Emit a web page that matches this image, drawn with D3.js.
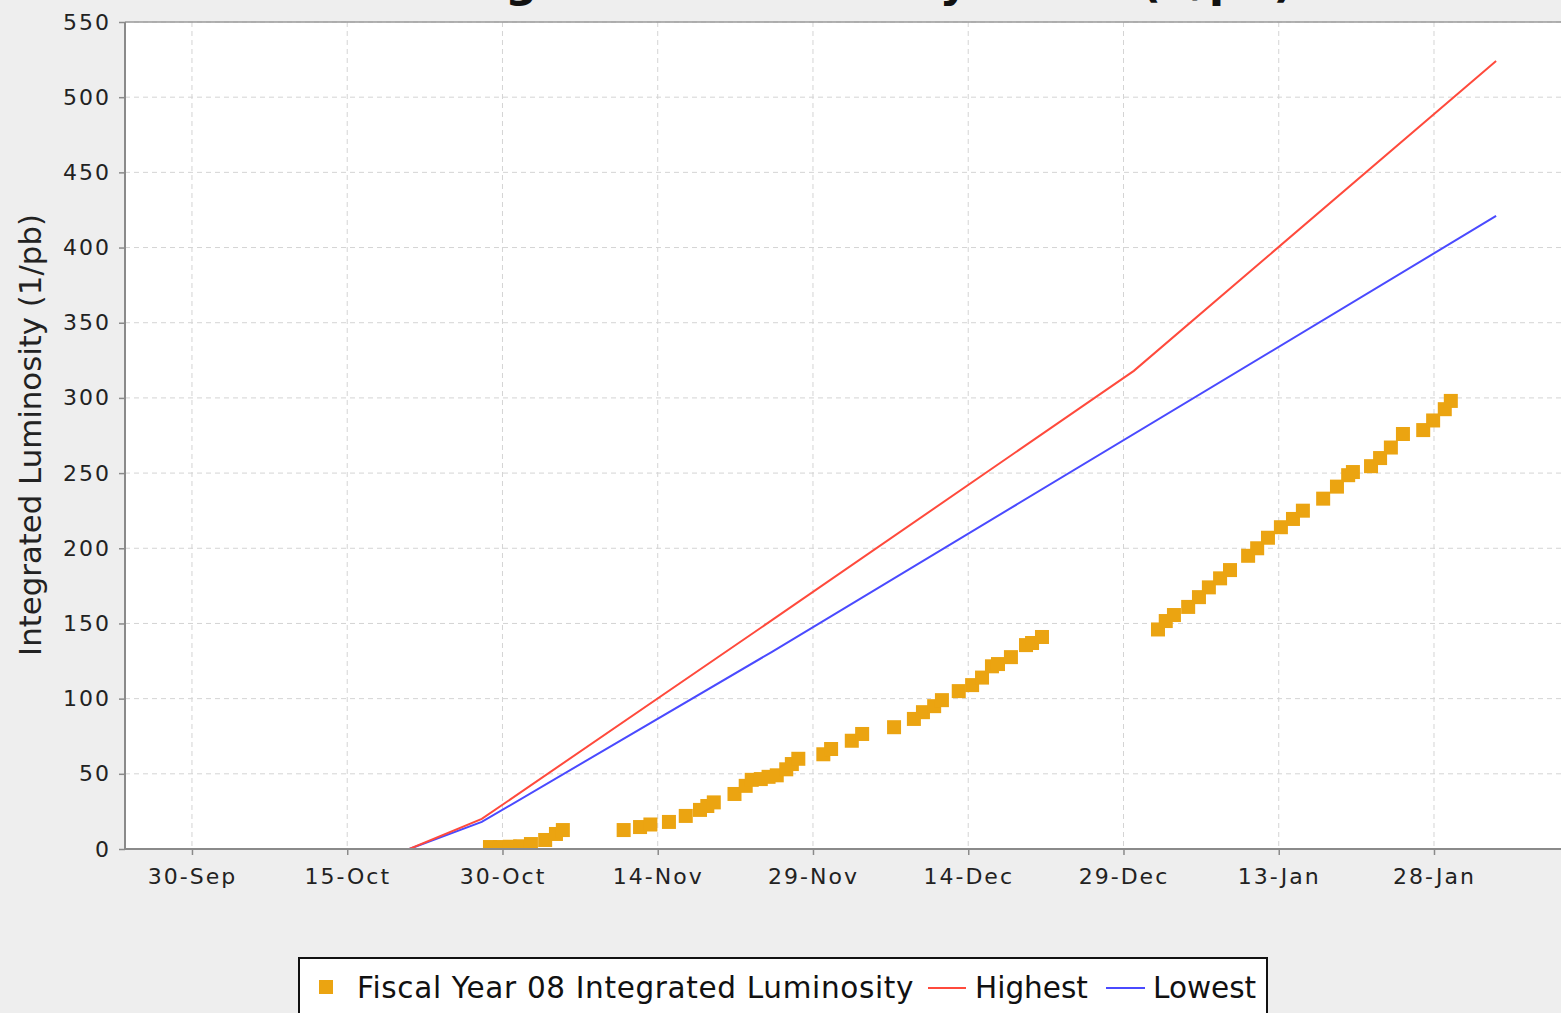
<!DOCTYPE html>
<html>
<head>
<meta charset="utf-8">
<script src="https://cdn.jsdelivr.net/npm/d3@7"></script>
<style>
  body { margin: 0; background: #eeeeee; }
  svg { display: block; font-family: "DejaVu Sans", sans-serif; }
</style>
</head>
<body>
<div id="chart"></div>
<script>
// fiscal year 08 integrated luminosity (1/pb)
var lumDates = [
  "2007-10-28 19:00", "2007-10-29 18:00", "2007-10-30 17:00", "2007-10-31 17:00",
  "2007-11-01 18:00", "2007-11-03 03:00", "2007-11-04 04:00", "2007-11-04 20:00",
  "2007-11-10 17:00", "2007-11-12 07:00", "2007-11-13 07:00", "2007-11-15 02:00",
  "2007-11-16 17:00", "2007-11-18 02:00", "2007-11-18 19:00", "2007-11-19 10:00",
  "2007-11-21 10:00", "2007-11-22 12:00", "2007-11-23 02:00", "2007-11-23 23:00",
  "2007-11-24 17:00", "2007-11-25 12:00", "2007-11-26 10:00", "2007-11-26 23:00",
  "2007-11-27 14:00",
  "2007-11-30 00:00", "2007-11-30 18:00", "2007-12-02 18:00", "2007-12-03 18:00",
  "2007-12-06 20:00", "2007-12-08 18:00", "2007-12-09 15:00", "2007-12-10 17:00",
  "2007-12-11 11:00", "2007-12-13 02:00", "2007-12-14 09:00", "2007-12-15 08:00",
  "2007-12-16 07:00", "2007-12-16 21:00", "2007-12-18 03:00", "2007-12-19 14:00",
  "2007-12-20 04:00", "2007-12-21 03:00",
  "2008-01-01 08:00", "2008-01-02 02:00", "2008-01-02 21:00", "2008-01-04 06:00",
  "2008-01-05 07:00", "2008-01-06 06:00", "2008-01-07 08:00", "2008-01-08 07:00",
  "2008-01-10 01:00", "2008-01-10 22:00", "2008-01-11 23:00", "2008-01-13 05:00",
  "2008-01-14 09:00", "2008-01-15 08:00", "2008-01-17 07:00", "2008-01-18 15:00",
  "2008-01-19 17:00", "2008-01-20 04:00", "2008-01-21 22:00", "2008-01-22 19:00",
  "2008-01-23 20:00", "2008-01-25 00:00", "2008-01-26 23:00", "2008-01-27 22:00",
  "2008-01-29 01:00", "2008-01-29 15:00"
];
var lumValues = [
  1.3, 1.3, 1.5, 1.8, 3.3, 6, 10, 12.6,
  12.6, 14.6, 16.3, 18, 22, 26, 28.6, 31, 36.6, 42, 46, 46.5, 48, 49, 53, 56.5, 60,
  63, 66.5, 72, 76.5, 81, 86.5, 91, 95, 99, 105, 109, 114, 121.5, 123, 127.6, 135.6, 137, 141,
  146, 151.6, 155.6, 161, 167.5, 174, 180, 185.5, 195, 200, 207, 214, 219.5, 225,
  233, 241, 248.6, 250.7, 254.6, 260, 267, 276, 278.6, 285, 292.5, 298
];

var highDates = ["2007-09-30 00:00", "2007-10-21 00:00", "2007-10-28 00:00", "2007-11-25 00:00", "2007-12-30 00:00", "2008-02-03 00:00"];
var highValues = [0, 0, 20, 152, 318, 524];

var lowDates = ["2007-09-30 00:00", "2007-10-21 00:00", "2007-10-28 00:00", "2007-11-25 00:00", "2008-02-03 00:00"];
var lowValues = [0, 0, 18, 131, 421];

var xTickDates = ["2007-09-30 00:00", "2007-10-15 00:00", "2007-10-30 00:00", "2007-11-14 00:00", "2007-11-29 00:00",
                  "2007-12-14 00:00", "2007-12-29 00:00", "2008-01-13 00:00", "2008-01-28 00:00"];
var yTicks = [0, 50, 100, 150, 200, 250, 300, 350, 400, 450, 500, 550];

var seriesNames = ["Fiscal Year 08 Integrated Luminosity", "Highest", "Lowest"];

var width = 1561, height = 1013;
var plotLeft = 125, plotTop = 22, plotBottom = 849, plotRight = 1561;
var parse = d3.utcParse("%Y-%m-%d %H:%M");

var svg = d3.select("#chart").append("svg")
  .attr("width", width)
  .attr("height", height);

svg.append("rect").attr("width", width).attr("height", height).attr("fill", "#eeeeee");

// axis range chosen so that 30-Sep lands where the reference puts it
var x = d3.scaleUtc()
  .domain([parse("2007-09-23 12:43"), parse("2008-02-09 06:30")])
  .range([plotLeft, plotRight]);
var y = d3.scaleLinear().domain([0, 550]).range([plotBottom, plotTop]);

svg.append("defs").append("clipPath").attr("id", "plotClip")
  .append("rect")
  .attr("x", plotLeft).attr("y", plotTop)
  .attr("width", plotRight - plotLeft).attr("height", plotBottom - plotTop);

svg.append("rect")
  .attr("x", plotLeft).attr("y", plotTop)
  .attr("width", plotRight - plotLeft).attr("height", plotBottom - plotTop)
  .attr("fill", "#ffffff");

// grid
var xTicks = xTickDates.map(parse);
svg.append("g").selectAll("line").data(xTicks).enter().append("line")
  .attr("x1", function(d) { return x(d); }).attr("x2", function(d) { return x(d); })
  .attr("y1", plotTop).attr("y2", plotBottom)
  .attr("stroke", "#d4d4d4").attr("stroke-dasharray", "5,4");
svg.append("g").selectAll("line").data(yTicks).enter().append("line")
  .attr("x1", plotLeft).attr("x2", plotRight)
  .attr("y1", function(d) { return y(d); }).attr("y2", function(d) { return y(d); })
  .attr("stroke", "#d4d4d4").attr("stroke-dasharray", "5,4");

// plot outline top
svg.append("line").attr("x1", plotLeft).attr("x2", plotRight).attr("y1", plotTop).attr("y2", plotTop)
  .attr("stroke", "#9a9a9a").attr("stroke-width", 1.5);

var dataArea = svg.append("g").attr("clip-path", "url(#plotClip)");

var line = d3.line()
  .x(function(d) { return x(d.date); })
  .y(function(d) { return y(d.value); });

function toPoints(dates, values) {
  return dates.map(function(d, i) { return { date: parse(d), value: values[i] }; });
}

// scatter squares
dataArea.selectAll(".lum").data(toPoints(lumDates, lumValues)).enter().append("rect")
  .attr("class", "lum")
  .attr("x", function(d) { return x(d.date) - 7; })
  .attr("y", function(d) { return y(d.value) - 7; })
  .attr("width", 14).attr("height", 14)
  .attr("fill", "#eba411");

dataArea.append("path").datum(toPoints(lowDates, lowValues))
  .attr("d", line).attr("fill", "none")
  .attr("stroke", "#4a4aff").attr("stroke-width", 2);
dataArea.append("path").datum(toPoints(highDates, highValues))
  .attr("d", line).attr("fill", "none")
  .attr("stroke", "#ff4a3c").attr("stroke-width", 2);

// axes
var xAxis = svg.append("g")
  .attr("transform", "translate(0," + plotBottom + ")")
  .call(d3.axisBottom(x).tickValues(xTicks).tickSize(6).tickPadding(13)
    .tickFormat(d3.utcFormat("%d-%b")));
var yAxis = svg.append("g")
  .attr("transform", "translate(" + plotLeft + ",0)")
  .call(d3.axisLeft(y).tickValues(yTicks).tickSize(6).tickPadding(8));

[xAxis, yAxis].forEach(function(a) {
  a.select(".domain").attr("stroke", "#8a8a8a").attr("stroke-width", 2);
  a.selectAll(".tick line").attr("stroke", "#8a8a8a").attr("stroke-width", 1.5);
  a.selectAll("text")
    .attr("fill", "#222")
    .style("font-family", "DejaVu Sans, sans-serif")
    .style("font-size", "22px")
    .style("letter-spacing", "2px");
});
yAxis.select(".domain").attr("d", "M0," + plotBottom + "V" + plotTop);
xAxis.select(".domain").attr("d", "M" + plotLeft + ",0H" + plotRight);

// y axis label
svg.append("text")
  .attr("transform", "translate(41,435) rotate(-90)")
  .attr("text-anchor", "middle")
  .attr("fill", "#222")
  .style("font-size", "30.8px")
  .text("Integrated Luminosity (1/pb)");

// chart title, mostly above the visible area as in the reference
svg.append("text")
  .attr("x", 849).attr("y", -3)
  .attr("text-anchor", "middle")
  .attr("fill", "#111")
  .style("font-size", "45px").style("font-weight", "bold")
  .text("Integrated Luminosity Goals (1/pb)");

// legend
var legend = svg.append("g");
legend.append("rect")
  .attr("x", 299).attr("y", 958).attr("width", 968).attr("height", 80)
  .attr("fill", "#ffffff").attr("stroke", "#111").attr("stroke-width", 2);
legend.append("rect").attr("x", 319).attr("y", 980).attr("width", 14).attr("height", 14).attr("fill", "#eba411");
legend.append("text").attr("x", 357).attr("y", 998).style("letter-spacing", "0.65px").text(seriesNames[0]);
legend.append("line").attr("x1", 928).attr("x2", 966).attr("y1", 988).attr("y2", 988)
  .attr("stroke", "#ff4a3c").attr("stroke-width", 2);
legend.append("text").attr("x", 975).attr("y", 998).text(seriesNames[1]);
legend.append("line").attr("x1", 1106).attr("x2", 1145).attr("y1", 988).attr("y2", 988)
  .attr("stroke", "#4a4aff").attr("stroke-width", 2);
legend.append("text").attr("x", 1153).attr("y", 998).text(seriesNames[2]);
legend.selectAll("text").attr("fill", "#111").style("font-size", "29.5px");
</script>
</body>
</html>
